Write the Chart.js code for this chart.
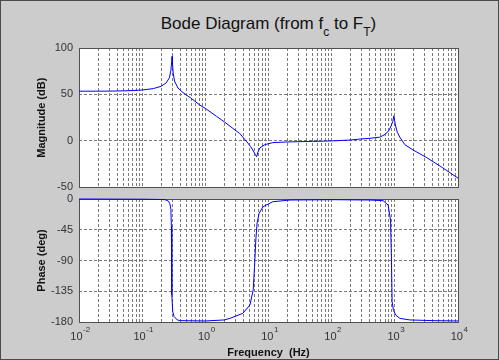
<!DOCTYPE html>
<html>
<head>
<meta charset="utf-8">
<title>Bode Diagram</title>
<script src="https://cdn.jsdelivr.net/npm/chart.js@4.4.1/dist/chart.umd.min.js"></script>
<style>
    html, body { margin: 0; padding: 0; }
    body {
        width: 499px; height: 360px; position: relative; overflow: hidden;
        background: #cccccc;
        font-family: Arial, "Liberation Sans", sans-serif;
    }
    #title {
        position: absolute; left: 79px; top: 15px; width: 379px;
        text-align: center; font-size: 17px; line-height: 17px;
        color: #111; white-space: nowrap;
    }
    #title span { position: relative; top: 7px; font-size: 12px; }
    canvas { position: absolute; left: 0; }
    #magChart { top: 0; }
    #phaseChart { top: 186px; }
    #frame {
        position: absolute; left: 0; top: 0; width: 499px; height: 360px;
        box-sizing: border-box; border: 1px solid #4a4a4a; pointer-events: none;
    }
</style>
</head>
<body>
<div id="title">Bode Diagram (from f<span>c</span> to F<span>T</span>)</div>
<canvas id="magChart" width="499" height="200"></canvas>
<canvas id="phaseChart" width="499" height="174"></canvas>
<div id="frame"></div>
<script>
// frequency axis: decades labelled, 1..9 grid lines in each decade
const decadeExponents = [-2, -1, 0, 1, 2, 3, 4];
const minorSteps = [1, 2, 3, 4, 5, 6, 7, 8, 9];

const magTicks = [-50, 0, 50, 100];
const phaseTicks = [-180, -135, -90, -45, 0];

// magnitude response (Hz, dB)
const magFreq = [0.01, 0.03, 0.06, 0.1, 0.15, 0.2, 0.24, 0.27, 0.285, 0.293, 0.297, 0.302, 0.31, 0.325,
    0.368, 0.443, 0.6, 0.82, 1.0, 1.5, 2.0, 2.73, 3.5, 3.94, 4.55, 5.2, 5.67, 6.2, 6.49, 6.8, 7.31, 8.77,
    11.7, 21.9, 50, 100, 200, 279, 400, 575, 700, 800, 870, 930, 964, 990, 1038, 1100, 1200, 1440, 1928,
    3209, 5750, 10000];
const magDb = [53.5, 53.6, 54, 54.8, 56.3, 58.8, 62.5, 68, 76, 85, 91, 83, 73, 64.5,
    57, 52, 45.8, 38.5, 35, 26.5, 20.5, 13.5, 8, 4, -1, -6, -10, -15, -17, -12, -7.5, -4,
    -1.8, -1, -0.5, 0, 1, 2, 2.8, 4, 7, 11, 16, 21, 27, 22, 15, 9, 4, -4, -9.6,
    -18, -29, -40];

// phase response (Hz, deg)
const phaseFreq = [0.01, 0.1, 0.2, 0.23, 0.26, 0.275, 0.285, 0.29, 0.293, 0.296, 0.305, 0.32, 0.36, 0.4,
    1.0, 2.0, 2.45, 3.93, 5.08, 5.73, 6.0, 6.3, 6.6, 7.1, 8.2, 11.7, 21.9, 100, 400, 653, 784, 855, 885,
    905, 950, 1038, 1200, 1726, 4000, 10000];
const phaseDeg = [0, -0.3, -0.7, -1, -3, -7, -15, -40, -90, -140, -165, -172, -177, -178,
    -178.5, -177, -174.7, -167.3, -155.2, -133, -100, -60, -35, -21, -11.3, -4, -1.5, -1, -1.5, -2.5, -9, -31, -90,
    -150, -163, -170, -174.7, -177, -178, -178.5];

const FONT = 'Arial, "Liberation Sans", sans-serif';
const GRID = '#7a7a7a';
Chart.defaults.font.family = FONT;

const freqGrid = [];
decadeExponents.forEach(e => {
    minorSteps.forEach(m => {
        const v = m * Math.pow(10, e);
        if (v <= 1e4) freqGrid.push(v);
    });
});

// white plot area and the dark box around it
const plotFrame = {
    id: 'plotFrame',
    beforeDraw(chart) {
        const { ctx, chartArea: a } = chart;
        ctx.save();
        ctx.fillStyle = '#ffffff';
        ctx.fillRect(a.left, a.top, a.right - a.left, a.bottom - a.top);
        ctx.restore();
    },
    beforeDatasetsDraw(chart) {
        const { ctx, chartArea: a } = chart;
        ctx.save();
        ctx.strokeStyle = '#505050';
        ctx.lineWidth = 1;
        ctx.strokeRect(Math.round(a.left) + 0.5, Math.round(a.top) + 0.5,
            Math.round(a.right - a.left), Math.round(a.bottom - a.top));
        ctx.restore();
    }
};

// "10" with the exponent raised, under each decade
const decadeLabels = {
    id: 'decadeLabels',
    afterDraw(chart) {
        const { ctx, chartArea: a } = chart;
        const x = chart.scales.x;
        ctx.save();
        ctx.fillStyle = '#333';
        ctx.textBaseline = 'alphabetic';
        ctx.textAlign = 'left';
        decadeExponents.forEach(e => {
            const px = x.getPixelForValue(Math.pow(10, e));
            const sup = String(e);
            ctx.font = '11px ' + FONT;
            const wBase = ctx.measureText('10').width;
            ctx.font = '8px ' + FONT;
            const wSup = ctx.measureText(sup).width;
            const left = px - (wBase + wSup) / 2 + 1;
            ctx.font = '11px ' + FONT;
            ctx.fillText('10', left, a.bottom + 18);
            ctx.font = '8px ' + FONT;
            ctx.fillText(sup, left + wBase + 0.5, a.bottom + 10);
        });
        ctx.restore();
    }
};

function freqAxis(bottomSpace, showTitle) {
    return {
        type: 'logarithmic',
        min: 0.01,
        max: 10000,
        afterBuildTicks: scale => { scale.ticks = freqGrid.map(v => ({ value: v })); },
        afterFit: scale => { scale.height = bottomSpace; },
        ticks: { display: false },
        grid: { color: GRID, lineWidth: 1, drawTicks: false },
        border: { display: false, dash: [3, 2] },
        title: {
            display: showTitle,
            text: 'Frequency  (Hz)',
            color: '#111',
            font: { size: 11, weight: 'bold' },
            padding: { top: 0, bottom: 0 }
        }
    };
}

function valueAxis(label, tickValues) {
    return {
        min: tickValues[0],
        max: tickValues[tickValues.length - 1],
        afterBuildTicks: scale => { scale.ticks = tickValues.map(v => ({ value: v })); },
        afterFit: scale => { scale.width = 79; },
        ticks: { color: '#333', font: { size: 11 }, padding: 6 },
        grid: { color: GRID, lineWidth: 1, drawTicks: false },
        border: { display: false, dash: [3, 2] },
        title: {
            display: true,
            text: label,
            color: '#111',
            font: { size: 11, weight: 'bold' },
            padding: { top: 35, bottom: 0 }
        }
    };
}

function bodePanel(canvasId, freq, values, yLabel, yTicks, padTop, bottomSpace, showX) {
    const ctx = document.getElementById(canvasId).getContext('2d');
    return new Chart(ctx, {
        type: 'line',
        data: {
            datasets: [{
                data: freq.map((f, i) => ({ x: f, y: values[i] })),
                borderColor: '#0000ff',
                borderWidth: 1,
                pointRadius: 0,
                tension: 0,
                fill: false,
                clip: 2
            }]
        },
        options: {
            responsive: false,
            animation: false,
            layout: { padding: { top: padTop, right: 41, bottom: 0, left: 0 } },
            scales: {
                x: freqAxis(bottomSpace, showX),
                y: valueAxis(yLabel, yTicks)
            },
            plugins: {
                legend: { display: false },
                tooltip: { enabled: false }
            }
        },
        plugins: showX ? [plotFrame, decadeLabels] : [plotFrame]
    });
}

document.addEventListener('DOMContentLoaded', function() {
    bodePanel('magChart', magFreq, magDb, 'Magnitude (dB)', magTicks, 48, 12, false);
    bodePanel('phaseChart', phaseFreq, phaseDeg, 'Phase (deg)', phaseTicks, 13, 38, true);
});
</script>
</body>
</html>
